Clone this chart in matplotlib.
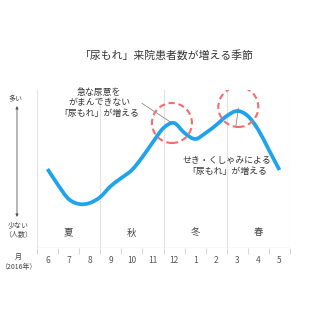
import matplotlib
matplotlib.use("Agg")
import matplotlib.pyplot as plt
from matplotlib.patches import Ellipse, PathPatch
from matplotlib.path import Path

plt.rcParams["font.family"] = ["Noto Sans CJK JP", "DejaVu Sans"]

# DATA
#--------------------------------------------------------------------------
months      = ["6", "7", "8", "9", "10", "11", "12", "1", "2", "3", "4", "5"]
seasons     = ["夏", "秋", "冬", "春"]
# patients level, read every half month from June to May
curve_x     = [0, 0.5, 1, 1.5, 2, 2.5, 3, 3.5, 4, 4.5, 5, 5.5,
               6, 6.5, 7, 7.5, 8, 8.5, 9, 9.5, 10, 10.5, 11]
curve_y     = [79, 63, 49, 44, 45, 51, 62, 70, 78, 91, 106, 120,
               125, 115, 109, 115, 123, 132, 137, 132, 118, 98, 78]
title       = "「尿もれ」来院患者数が増える季節"
note1       = "急な尿意を\nがまんできない\n「尿もれ」が増える"
note2       = "せき・くしゃみによる\n「尿もれ」が増える"
peak1_x, peak1_y = 6, 125
peak2_x, peak2_y = 9, 137

BLUE = "#1fa3ec"
RED  = "#f26d6d"
GRID = "#e2e2e2"
TXT  = "#444444"

fig = plt.figure(figsize=(3.2, 3.2), dpi=100)
ax = fig.add_axes([37/320, 72/320, 253/320, 158/320])

ax.set_xlim(-0.5, 11.5)
ax.set_ylim(0, 158)
for s in ax.spines.values():
    s.set_visible(False)

# season dividers + base line
for xv in [-0.5, 2.5, 5.5, 8.5, 11.5]:
    ax.axvline(xv, color=GRID, lw=0.8, zorder=0)
ax.axhline(0, color="#d0d0d0", lw=0.9, zorder=1)

ax.set_xticks(range(len(months)))
ax.set_xticklabels(months, fontsize=6, color="#555555")
ax.tick_params(axis="x", length=0, pad=6)
ax.set_xticks([i - 0.5 for i in range(len(months) + 1)], minor=True)
ax.tick_params(axis="x", which="minor", length=4, width=0.6, color="#d0d0d0")
ax.set_yticks([])

for i, s in enumerate(seasons):
    ax.text(1 + 3 * i, 15, s, ha="center", va="center", fontsize=6.8, color=TXT)

# smooth curve through the read points (bezier segments, catmull-rom handles)
pts = list(zip(curve_x, curve_y))
verts, codes = [pts[0]], [Path.MOVETO]
for i in range(len(pts) - 1):
    p0 = pts[i - 1] if i > 0 else pts[i]
    p1, p2 = pts[i], pts[i + 1]
    p3 = pts[i + 2] if i + 2 < len(pts) else pts[i + 1]
    c1 = (p1[0] + (p2[0] - p0[0]) / 6, p1[1] + (p2[1] - p0[1]) / 6)
    c2 = (p2[0] - (p3[0] - p1[0]) / 6, p2[1] - (p3[1] - p1[1]) / 6)
    verts += [c1, c2, p2]
    codes += [Path.CURVE4] * 3
ax.add_patch(PathPatch(Path(verts, codes), fill=False, ec=BLUE, lw=2.7,
                       capstyle="butt", joinstyle="round", zorder=3))

# dashed circles around the two peaks
w = 2 * 20 / (253 / 12)
for cx, cy in [(peak1_x - 0.1, peak1_y), (peak2_x + 0.05, peak2_y + 4)]:
    ax.add_patch(Ellipse((cx, cy), w, 40, fill=False, ec=RED, lw=1.5,
                         ls=(0, (3, 1.8)), zorder=4))

ax.annotate(note1, xy=(peak1_x - 0.1, peak1_y), xytext=(2.45, 145),
            ha="center", va="center", fontsize=6.4, color="#333333",
            linespacing=1.25,
            arrowprops=dict(arrowstyle="-", color="#777777", lw=0.5,
                            relpos=(1, 0.55), shrinkA=0, shrinkB=0))
ax.annotate(note2, xy=(peak2_x + 0.05, peak2_y + 3), xytext=(8.53, 82),
            ha="center", va="center", fontsize=6.4, color="#333333",
            linespacing=1.25,
            arrowprops=dict(arrowstyle="-", color="#777777", lw=0.5,
                            relpos=(0.55, 1), shrinkA=20, shrinkB=0))

# title and left-side labels
fig.text(167/320, 1 - 55/320, title, ha="center", va="center",
         fontsize=7.8, color="#333333")
fig.text(16/320, 1 - 99/320, "多い", ha="center", va="center",
         fontsize=5, color=TXT)
ax.annotate("", xy=(17/320, 1 - 106/320), xytext=(17/320, 1 - 217/320),
            xycoords="figure fraction", textcoords="figure fraction",
            arrowprops=dict(arrowstyle="<|-|>", color="#555555", lw=0.6,
                            mutation_scale=4, shrinkA=0, shrinkB=0))
fig.text(18/320, 1 - 230/320, "少ない\n（人数）", ha="center", va="center",
         fontsize=5, color=TXT, linespacing=1.3)
fig.text(18/320, 1 - 262/320, "月\n（2016年）", ha="center", va="center",
         fontsize=5, color=TXT, linespacing=1.4)

fig.savefig("out.png", dpi=100)
